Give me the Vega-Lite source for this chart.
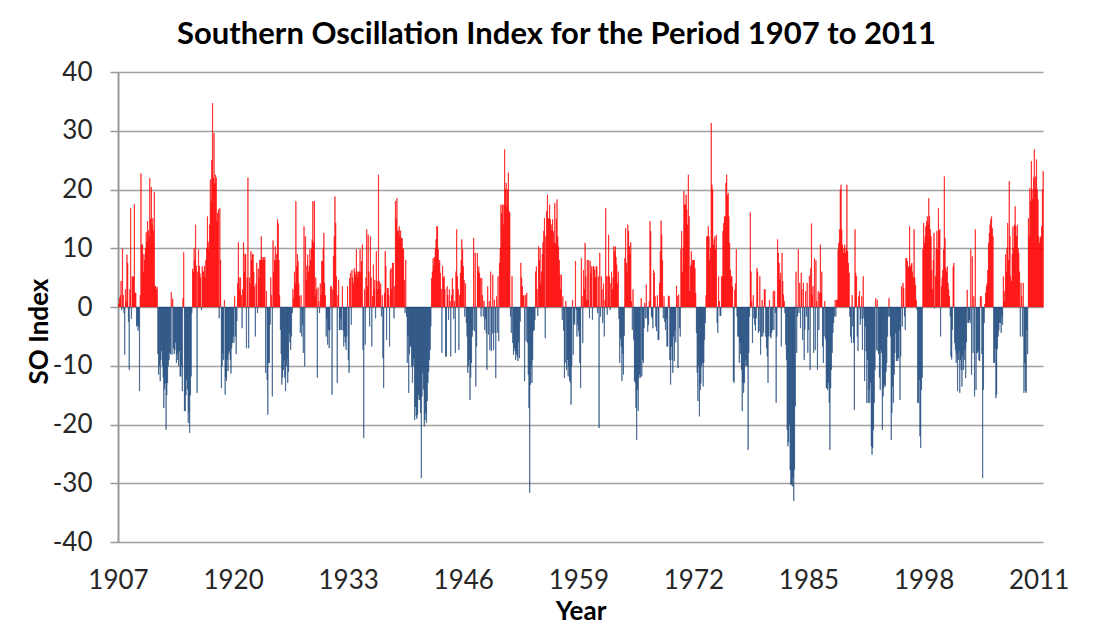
{
"$schema": "https://vega.github.io/schema/vega-lite/v6.json",
"width": 925,
"height": 470,
"autosize": {"type": "none"},
"padding": {"left": 118, "top": 72, "right": 56, "bottom": 86},
"background": "white",
"title": {"text": "Southern Oscillation Index for the Period 1907 to 2011", "font": "Lato", "fontSize": 31, "fontWeight": "bold", "color": "#000000", "anchor": "middle", "frame": "group", "dx": -24, "dy": 40, "baseline": "alphabetic", "offset": 24},
"config": {"view": {"stroke": null}, "font": "Lato"},
"datasets": {"soi": [
{"d":"1907-01","v":0.5},{"d":"1907-02","v":1.5},{"d":"1907-03","v":2.0},{"d":"1907-04","v":4.4},{"d":"1907-05","v":-0.5},{"d":"1907-06","v":9.9},{"d":"1907-07","v":2.0},{"d":"1907-08","v":-1.0},{"d":"1907-09","v":-8.1},{"d":"1907-10","v":3.0},{"d":"1907-11","v":1.0},{"d":"1907-12","v":8.9},
{"d":"1908-01","v":7.5},{"d":"1908-02","v":-2.5},{"d":"1908-03","v":-10.7},{"d":"1908-04","v":3.0},{"d":"1908-05","v":16.8},{"d":"1908-06","v":-2.0},{"d":"1908-07","v":5.2},{"d":"1908-08","v":5.0},{"d":"1908-09","v":5.2},{"d":"1908-10","v":17.5},{"d":"1908-11","v":2.4},{"d":"1908-12","v":2.4},
{"d":"1909-01","v":-3.3},{"d":"1909-02","v":-3.0},{"d":"1909-03","v":-4.0},{"d":"1909-04","v":-3.3},{"d":"1909-05","v":-14.3},{"d":"1909-06","v":2.0},{"d":"1909-07","v":22.7},{"d":"1909-08","v":10.6},{"d":"1909-09","v":10.6},{"d":"1909-10","v":6.0},{"d":"1909-11","v":9.0},{"d":"1909-12","v":8.0},
{"d":"1910-01","v":10.0},{"d":"1910-02","v":12.7},{"d":"1910-03","v":11.0},{"d":"1910-04","v":14.6},{"d":"1910-05","v":13.0},{"d":"1910-06","v":12.0},{"d":"1910-07","v":21.9},{"d":"1910-08","v":15.0},{"d":"1910-09","v":20.4},{"d":"1910-10","v":14.0},{"d":"1910-11","v":15.1},{"d":"1910-12","v":13.0},
{"d":"1911-01","v":19.6},{"d":"1911-02","v":3.4},{"d":"1911-03","v":3.6},{"d":"1911-04","v":3.0},{"d":"1911-05","v":3.4},{"d":"1911-06","v":-8.0},{"d":"1911-07","v":-11.5},{"d":"1911-08","v":-10.0},{"d":"1911-09","v":-12.6},{"d":"1911-10","v":-9.0},{"d":"1911-11","v":-7.5},{"d":"1911-12","v":-10.0},
{"d":"1912-01","v":-12.0},{"d":"1912-02","v":-17.2},{"d":"1912-03","v":-14.0},{"d":"1912-04","v":-13.0},{"d":"1912-05","v":-20.9},{"d":"1912-06","v":-15.0},{"d":"1912-07","v":-12.9},{"d":"1912-08","v":-10.0},{"d":"1912-09","v":-9.0},{"d":"1912-10","v":-7.8},{"d":"1912-11","v":-8.0},{"d":"1912-12","v":2.5},
{"d":"1913-01","v":-8.1},{"d":"1913-02","v":1.4},{"d":"1913-03","v":-7.0},{"d":"1913-04","v":-8.0},{"d":"1913-05","v":-7.3},{"d":"1913-06","v":-6.0},{"d":"1913-07","v":-9.5},{"d":"1913-08","v":-8.0},{"d":"1913-09","v":-9.0},{"d":"1913-10","v":-10.0},{"d":"1913-11","v":-7.5},{"d":"1913-12","v":-11.8},
{"d":"1914-01","v":-11.8},{"d":"1914-02","v":-10.0},{"d":"1914-03","v":-14.3},{"d":"1914-04","v":1.5},{"d":"1914-05","v":9.3},{"d":"1914-06","v":-17.7},{"d":"1914-07","v":-17.7},{"d":"1914-08","v":-15.0},{"d":"1914-09","v":-12.4},{"d":"1914-10","v":-14.0},{"d":"1914-11","v":-19.7},{"d":"1914-12","v":-18.0},
{"d":"1915-01","v":-21.4},{"d":"1915-02","v":-15.0},{"d":"1915-03","v":-11.8},{"d":"1915-04","v":-1.0},{"d":"1915-05","v":6.5},{"d":"1915-06","v":6.0},{"d":"1915-07","v":10.0},{"d":"1915-08","v":8.0},{"d":"1915-09","v":14.0},{"d":"1915-10","v":7.0},{"d":"1915-11","v":-14.6},{"d":"1915-12","v":6.0},
{"d":"1916-01","v":9.8},{"d":"1916-02","v":7.0},{"d":"1916-03","v":5.7},{"d":"1916-04","v":5.0},{"d":"1916-05","v":-0.5},{"d":"1916-06","v":6.9},{"d":"1916-07","v":6.0},{"d":"1916-08","v":6.0},{"d":"1916-09","v":7.0},{"d":"1916-10","v":5.0},{"d":"1916-11","v":8.0},{"d":"1916-12","v":10.0},
{"d":"1917-01","v":15.4},{"d":"1917-02","v":11.0},{"d":"1917-03","v":9.7},{"d":"1917-04","v":14.0},{"d":"1917-05","v":21.7},{"d":"1917-06","v":18.0},{"d":"1917-07","v":25.0},{"d":"1917-08","v":34.7},{"d":"1917-09","v":22.0},{"d":"1917-10","v":29.6},{"d":"1917-11","v":21.0},{"d":"1917-12","v":22.5},
{"d":"1918-01","v":22.0},{"d":"1918-02","v":14.6},{"d":"1918-03","v":16.0},{"d":"1918-04","v":16.6},{"d":"1918-05","v":-1.9},{"d":"1918-06","v":16.8},{"d":"1918-07","v":8.0},{"d":"1918-08","v":-13.8},{"d":"1918-09","v":-10.0},{"d":"1918-10","v":-7.8},{"d":"1918-11","v":-9.0},{"d":"1918-12","v":1.2},
{"d":"1919-01","v":-14.9},{"d":"1919-02","v":-12.0},{"d":"1919-03","v":-12.6},{"d":"1919-04","v":-9.0},{"d":"1919-05","v":-10.9},{"d":"1919-06","v":-8.0},{"d":"1919-07","v":-7.5},{"d":"1919-08","v":-9.0},{"d":"1919-09","v":-11.3},{"d":"1919-10","v":-7.0},{"d":"1919-11","v":-6.1},{"d":"1919-12","v":-5.0},
{"d":"1920-01","v":-6.1},{"d":"1920-02","v":1.8},{"d":"1920-03","v":-5.0},{"d":"1920-04","v":-8.0},{"d":"1920-05","v":-2.4},{"d":"1920-06","v":4.0},{"d":"1920-07","v":11.0},{"d":"1920-08","v":5.0},{"d":"1920-09","v":3.0},{"d":"1920-10","v":5.0},{"d":"1920-11","v":2.0},{"d":"1920-12","v":-3.6},
{"d":"1921-01","v":3.0},{"d":"1921-02","v":11.0},{"d":"1921-03","v":6.0},{"d":"1921-04","v":9.0},{"d":"1921-05","v":9.0},{"d":"1921-06","v":-7.0},{"d":"1921-07","v":5.0},{"d":"1921-08","v":22.0},{"d":"1921-09","v":-7.0},{"d":"1921-10","v":5.0},{"d":"1921-11","v":4.0},{"d":"1921-12","v":9.5},
{"d":"1922-01","v":8.0},{"d":"1922-02","v":9.0},{"d":"1922-03","v":9.0},{"d":"1922-04","v":6.0},{"d":"1922-05","v":3.5},{"d":"1922-06","v":-5.0},{"d":"1922-07","v":4.0},{"d":"1922-08","v":7.5},{"d":"1922-09","v":-1.0},{"d":"1922-10","v":6.5},{"d":"1922-11","v":5.0},{"d":"1922-12","v":8.0},
{"d":"1923-01","v":8.0},{"d":"1923-02","v":12.0},{"d":"1923-03","v":8.5},{"d":"1923-04","v":8.0},{"d":"1923-05","v":8.5},{"d":"1923-06","v":8.0},{"d":"1923-07","v":8.5},{"d":"1923-08","v":-11.2},{"d":"1923-09","v":2.7},{"d":"1923-10","v":-12.4},{"d":"1923-11","v":-18.3},{"d":"1923-12","v":-9.5},
{"d":"1924-01","v":-9.5},{"d":"1924-02","v":-3.0},{"d":"1924-03","v":5.0},{"d":"1924-04","v":2.0},{"d":"1924-05","v":-15.2},{"d":"1924-06","v":11.3},{"d":"1924-07","v":6.0},{"d":"1924-08","v":8.0},{"d":"1924-09","v":10.3},{"d":"1924-10","v":7.8},{"d":"1924-11","v":9.0},{"d":"1924-12","v":14.9},
{"d":"1925-01","v":14.2},{"d":"1925-02","v":8.0},{"d":"1925-03","v":2.0},{"d":"1925-04","v":-3.9},{"d":"1925-05","v":-8.0},{"d":"1925-06","v":-13.2},{"d":"1925-07","v":-12.0},{"d":"1925-08","v":-10.7},{"d":"1925-09","v":-9.0},{"d":"1925-10","v":-12.0},{"d":"1925-11","v":-14.3},{"d":"1925-12","v":-10.0},
{"d":"1926-01","v":-8.9},{"d":"1926-02","v":-12.9},{"d":"1926-03","v":-11.0},{"d":"1926-04","v":-4.5},{"d":"1926-05","v":-6.0},{"d":"1926-06","v":-7.3},{"d":"1926-07","v":-5.0},{"d":"1926-08","v":-1.0},{"d":"1926-09","v":3.0},{"d":"1926-10","v":1.5},{"d":"1926-11","v":6.0},{"d":"1926-12","v":4.0},
{"d":"1927-01","v":18.0},{"d":"1927-02","v":6.9},{"d":"1927-03","v":9.0},{"d":"1927-04","v":7.8},{"d":"1927-05","v":4.0},{"d":"1927-06","v":1.8},{"d":"1927-07","v":-4.4},{"d":"1927-08","v":2.0},{"d":"1927-09","v":-5.0},{"d":"1927-10","v":-3.0},{"d":"1927-11","v":-7.8},{"d":"1927-12","v":13.7},
{"d":"1928-01","v":-10.1},{"d":"1928-02","v":12.0},{"d":"1928-03","v":4.6},{"d":"1928-04","v":7.0},{"d":"1928-05","v":8.9},{"d":"1928-06","v":6.0},{"d":"1928-07","v":7.0},{"d":"1928-08","v":9.8},{"d":"1928-09","v":8.0},{"d":"1928-10","v":10.0},{"d":"1928-11","v":11.5},{"d":"1928-12","v":18.0},
{"d":"1929-01","v":11.0},{"d":"1929-02","v":18.0},{"d":"1929-03","v":1.8},{"d":"1929-04","v":5.0},{"d":"1929-05","v":3.0},{"d":"1929-06","v":-12.0},{"d":"1929-07","v":3.3},{"d":"1929-08","v":1.0},{"d":"1929-09","v":-1.0},{"d":"1929-10","v":4.0},{"d":"1929-11","v":2.0},{"d":"1929-12","v":7.8},
{"d":"1930-01","v":7.8},{"d":"1930-02","v":10.0},{"d":"1930-03","v":12.6},{"d":"1930-04","v":4.1},{"d":"1930-05","v":2.0},{"d":"1930-06","v":-5.0},{"d":"1930-07","v":-2.0},{"d":"1930-08","v":-6.4},{"d":"1930-09","v":-3.9},{"d":"1930-10","v":-7.0},{"d":"1930-11","v":-4.0},{"d":"1930-12","v":3.5},
{"d":"1931-01","v":3.5},{"d":"1931-02","v":-14.9},{"d":"1931-03","v":3.0},{"d":"1931-04","v":8.6},{"d":"1931-05","v":12.0},{"d":"1931-06","v":18.8},{"d":"1931-07","v":14.3},{"d":"1931-08","v":5.2},{"d":"1931-09","v":-12.9},{"d":"1931-10","v":2.0},{"d":"1931-11","v":4.6},{"d":"1931-12","v":-3.9},
{"d":"1932-01","v":-3.9},{"d":"1932-02","v":-2.0},{"d":"1932-03","v":-3.9},{"d":"1932-04","v":3.5},{"d":"1932-05","v":-4.0},{"d":"1932-06","v":-6.7},{"d":"1932-07","v":-5.0},{"d":"1932-08","v":-6.0},{"d":"1932-09","v":-7.3},{"d":"1932-10","v":-5.0},{"d":"1932-11","v":3.5},{"d":"1932-12","v":-9.0},
{"d":"1933-01","v":-11.2},{"d":"1933-02","v":4.9},{"d":"1933-03","v":5.8},{"d":"1933-04","v":-3.0},{"d":"1933-05","v":6.3},{"d":"1933-06","v":5.0},{"d":"1933-07","v":4.0},{"d":"1933-08","v":6.6},{"d":"1933-09","v":6.0},{"d":"1933-10","v":5.5},{"d":"1933-11","v":9.8},{"d":"1933-12","v":6.0},
{"d":"1934-01","v":5.0},{"d":"1934-02","v":6.0},{"d":"1934-03","v":6.0},{"d":"1934-04","v":9.8},{"d":"1934-05","v":6.0},{"d":"1934-06","v":7.8},{"d":"1934-07","v":10.6},{"d":"1934-08","v":-7.3},{"d":"1934-09","v":-22.3},{"d":"1934-10","v":3.0},{"d":"1934-11","v":-6.4},{"d":"1934-12","v":5.0},
{"d":"1935-01","v":13.2},{"d":"1935-02","v":3.5},{"d":"1935-03","v":12.3},{"d":"1935-04","v":6.0},{"d":"1935-05","v":-3.3},{"d":"1935-06","v":12.0},{"d":"1935-07","v":5.0},{"d":"1935-08","v":-6.7},{"d":"1935-09","v":1.8},{"d":"1935-10","v":7.2},{"d":"1935-11","v":3.0},{"d":"1935-12","v":4.6},
{"d":"1936-01","v":-1.9},{"d":"1936-02","v":9.5},{"d":"1936-03","v":4.4},{"d":"1936-04","v":3.0},{"d":"1936-05","v":22.5},{"d":"1936-06","v":4.4},{"d":"1936-07","v":3.0},{"d":"1936-08","v":4.0},{"d":"1936-09","v":-1.6},{"d":"1936-10","v":2.0},{"d":"1936-11","v":-8.7},{"d":"1936-12","v":-13.8},
{"d":"1937-01","v":2.4},{"d":"1937-02","v":9.5},{"d":"1937-03","v":7.0},{"d":"1937-04","v":-5.6},{"d":"1937-05","v":3.2},{"d":"1937-06","v":3.2},{"d":"1937-07","v":2.0},{"d":"1937-08","v":-6.7},{"d":"1937-09","v":6.3},{"d":"1937-10","v":6.6},{"d":"1937-11","v":3.0},{"d":"1937-12","v":7.5},
{"d":"1938-01","v":7.5},{"d":"1938-02","v":-1.9},{"d":"1938-03","v":3.5},{"d":"1938-04","v":18.0},{"d":"1938-05","v":15.0},{"d":"1938-06","v":18.5},{"d":"1938-07","v":12.9},{"d":"1938-08","v":13.0},{"d":"1938-09","v":13.7},{"d":"1938-10","v":12.0},{"d":"1938-11","v":13.0},{"d":"1938-12","v":11.7},
{"d":"1939-01","v":11.7},{"d":"1939-02","v":10.0},{"d":"1939-03","v":9.8},{"d":"1939-04","v":4.6},{"d":"1939-05","v":-1.0},{"d":"1939-06","v":8.0},{"d":"1939-07","v":-1.6},{"d":"1939-08","v":-9.5},{"d":"1939-09","v":-5.0},{"d":"1939-10","v":-14.6},{"d":"1939-11","v":-8.0},{"d":"1939-12","v":-6.7},
{"d":"1940-01","v":-6.7},{"d":"1940-02","v":-10.1},{"d":"1940-03","v":-12.9},{"d":"1940-04","v":-10.0},{"d":"1940-05","v":-8.7},{"d":"1940-06","v":-19.2},{"d":"1940-07","v":-17.0},{"d":"1940-08","v":-18.6},{"d":"1940-09","v":-19.0},{"d":"1940-10","v":-18.3},{"d":"1940-11","v":-15.0},{"d":"1940-12","v":-15.8},
{"d":"1941-01","v":-15.8},{"d":"1941-02","v":-18.0},{"d":"1941-03","v":-29.1},{"d":"1941-04","v":-15.2},{"d":"1941-05","v":-11.2},{"d":"1941-06","v":-14.0},{"d":"1941-07","v":-20.3},{"d":"1941-08","v":-19.2},{"d":"1941-09","v":-18.0},{"d":"1941-10","v":-19.7},{"d":"1941-11","v":-16.0},{"d":"1941-12","v":-12.9},
{"d":"1942-01","v":-11.0},{"d":"1942-02","v":-9.0},{"d":"1942-03","v":-7.3},{"d":"1942-04","v":-3.3},{"d":"1942-05","v":4.9},{"d":"1942-06","v":6.0},{"d":"1942-07","v":8.3},{"d":"1942-08","v":7.0},{"d":"1942-09","v":8.5},{"d":"1942-10","v":10.0},{"d":"1942-11","v":11.5},{"d":"1942-12","v":13.7},
{"d":"1943-01","v":13.7},{"d":"1943-02","v":9.8},{"d":"1943-03","v":7.5},{"d":"1943-04","v":8.0},{"d":"1943-05","v":5.8},{"d":"1943-06","v":3.0},{"d":"1943-07","v":-7.8},{"d":"1943-08","v":7.0},{"d":"1943-09","v":5.0},{"d":"1943-10","v":5.2},{"d":"1943-11","v":3.0},{"d":"1943-12","v":-8.4},
{"d":"1944-01","v":-8.4},{"d":"1944-02","v":3.5},{"d":"1944-03","v":2.0},{"d":"1944-04","v":-2.2},{"d":"1944-05","v":3.0},{"d":"1944-06","v":1.0},{"d":"1944-07","v":-8.4},{"d":"1944-08","v":2.0},{"d":"1944-09","v":4.9},{"d":"1944-10","v":3.0},{"d":"1944-11","v":-2.0},{"d":"1944-12","v":1.0},
{"d":"1945-01","v":-7.8},{"d":"1945-02","v":6.0},{"d":"1945-03","v":13.2},{"d":"1945-04","v":5.2},{"d":"1945-05","v":3.0},{"d":"1945-06","v":-7.3},{"d":"1945-07","v":2.0},{"d":"1945-08","v":5.8},{"d":"1945-09","v":8.0},{"d":"1945-10","v":11.5},{"d":"1945-11","v":9.8},{"d":"1945-12","v":6.9},
{"d":"1946-01","v":4.6},{"d":"1946-02","v":-1.6},{"d":"1946-03","v":4.0},{"d":"1946-04","v":-2.7},{"d":"1946-05","v":-5.0},{"d":"1946-06","v":-11.2},{"d":"1946-07","v":-10.0},{"d":"1946-08","v":-9.0},{"d":"1946-09","v":-15.8},{"d":"1946-10","v":-12.0},{"d":"1946-11","v":-9.5},{"d":"1946-12","v":-5.0},
{"d":"1947-01","v":-3.9},{"d":"1947-02","v":11.7},{"d":"1947-03","v":-4.1},{"d":"1947-04","v":9.2},{"d":"1947-05","v":-13.5},{"d":"1947-06","v":-6.7},{"d":"1947-07","v":9.2},{"d":"1947-08","v":6.0},{"d":"1947-09","v":6.9},{"d":"1947-10","v":5.8},{"d":"1947-11","v":4.9},{"d":"1947-12","v":-1.6},
{"d":"1948-01","v":4.9},{"d":"1948-02","v":2.0},{"d":"1948-03","v":-1.6},{"d":"1948-04","v":1.0},{"d":"1948-05","v":-3.9},{"d":"1948-06","v":-2.0},{"d":"1948-07","v":-4.4},{"d":"1948-08","v":-10.7},{"d":"1948-09","v":3.5},{"d":"1948-10","v":-4.7},{"d":"1948-11","v":1.0},{"d":"1948-12","v":-7.3},
{"d":"1949-01","v":6.0},{"d":"1949-02","v":-7.5},{"d":"1949-03","v":-4.5},{"d":"1949-04","v":5.5},{"d":"1949-05","v":-7.3},{"d":"1949-06","v":1.2},{"d":"1949-07","v":-4.4},{"d":"1949-08","v":-12.1},{"d":"1949-09","v":1.8},{"d":"1949-10","v":-4.4},{"d":"1949-11","v":5.2},{"d":"1949-12","v":-5.8},
{"d":"1950-01","v":7.5},{"d":"1950-02","v":10.0},{"d":"1950-03","v":17.4},{"d":"1950-04","v":16.0},{"d":"1950-05","v":17.4},{"d":"1950-06","v":14.0},{"d":"1950-07","v":17.4},{"d":"1950-08","v":26.8},{"d":"1950-09","v":20.0},{"d":"1950-10","v":21.1},{"d":"1950-11","v":17.1},{"d":"1950-12","v":20.0},
{"d":"1951-01","v":22.9},{"d":"1951-02","v":16.3},{"d":"1951-03","v":16.0},{"d":"1951-04","v":-1.6},{"d":"1951-05","v":-4.4},{"d":"1951-06","v":5.2},{"d":"1951-07","v":-6.1},{"d":"1951-08","v":-8.1},{"d":"1951-09","v":-7.0},{"d":"1951-10","v":-7.5},{"d":"1951-11","v":-9.0},{"d":"1951-12","v":-8.0},
{"d":"1952-01","v":-8.4},{"d":"1952-02","v":-9.2},{"d":"1952-03","v":-6.0},{"d":"1952-04","v":-8.7},{"d":"1952-05","v":-2.5},{"d":"1952-06","v":7.5},{"d":"1952-07","v":5.0},{"d":"1952-08","v":3.5},{"d":"1952-09","v":1.8},{"d":"1952-10","v":2.0},{"d":"1952-11","v":-12.6},{"d":"1952-12","v":2.0},
{"d":"1953-01","v":-5.8},{"d":"1953-02","v":2.4},{"d":"1953-03","v":-6.1},{"d":"1953-04","v":-11.5},{"d":"1953-05","v":-17.2},{"d":"1953-06","v":-31.6},{"d":"1953-07","v":-13.2},{"d":"1953-08","v":-10.0},{"d":"1953-09","v":-12.9},{"d":"1953-10","v":-9.0},{"d":"1953-11","v":-4.1},{"d":"1953-12","v":-3.9},
{"d":"1954-01","v":-2.2},{"d":"1954-02","v":6.0},{"d":"1954-03","v":6.9},{"d":"1954-04","v":3.0},{"d":"1954-05","v":-1.5},{"d":"1954-06","v":10.3},{"d":"1954-07","v":8.0},{"d":"1954-08","v":10.0},{"d":"1954-09","v":4.0},{"d":"1954-10","v":6.0},{"d":"1954-11","v":9.0},{"d":"1954-12","v":11.0},
{"d":"1955-01","v":12.9},{"d":"1955-02","v":15.1},{"d":"1955-03","v":-5.3},{"d":"1955-04","v":12.0},{"d":"1955-05","v":16.3},{"d":"1955-06","v":19.1},{"d":"1955-07","v":15.0},{"d":"1955-08","v":15.1},{"d":"1955-09","v":17.4},{"d":"1955-10","v":14.9},{"d":"1955-11","v":14.0},{"d":"1955-12","v":13.0},
{"d":"1956-01","v":14.9},{"d":"1956-02","v":12.9},{"d":"1956-03","v":10.9},{"d":"1956-04","v":17.7},{"d":"1956-05","v":10.9},{"d":"1956-06","v":15.0},{"d":"1956-07","v":18.3},{"d":"1956-08","v":12.0},{"d":"1956-09","v":10.3},{"d":"1956-10","v":8.0},{"d":"1956-11","v":5.5},{"d":"1956-12","v":3.0},
{"d":"1957-01","v":5.5},{"d":"1957-02","v":-2.2},{"d":"1957-03","v":1.8},{"d":"1957-04","v":-4.0},{"d":"1957-05","v":-12.1},{"d":"1957-06","v":-9.5},{"d":"1957-07","v":1.0},{"d":"1957-08","v":-10.7},{"d":"1957-09","v":-9.0},{"d":"1957-10","v":-11.8},{"d":"1957-11","v":-10.0},{"d":"1957-12","v":-12.5},
{"d":"1958-01","v":-12.9},{"d":"1958-02","v":-16.6},{"d":"1958-03","v":-10.0},{"d":"1958-04","v":1.2},{"d":"1958-05","v":-8.1},{"d":"1958-06","v":-2.7},{"d":"1958-07","v":-3.0},{"d":"1958-08","v":7.8},{"d":"1958-09","v":-0.5},{"d":"1958-10","v":-5.0},{"d":"1958-11","v":-3.0},{"d":"1958-12","v":-4.0},
{"d":"1959-01","v":-5.0},{"d":"1959-02","v":-9.5},{"d":"1959-03","v":-13.8},{"d":"1959-04","v":8.3},{"d":"1959-05","v":1.8},{"d":"1959-06","v":-6.1},{"d":"1959-07","v":6.3},{"d":"1959-08","v":3.0},{"d":"1959-09","v":10.9},{"d":"1959-10","v":5.2},{"d":"1959-11","v":1.2},{"d":"1959-12","v":8.0},
{"d":"1960-01","v":1.2},{"d":"1960-02","v":8.0},{"d":"1960-03","v":-1.9},{"d":"1960-04","v":7.8},{"d":"1960-05","v":5.8},{"d":"1960-06","v":6.9},{"d":"1960-07","v":-2.2},{"d":"1960-08","v":6.9},{"d":"1960-09","v":6.9},{"d":"1960-10","v":6.3},{"d":"1960-11","v":5.0},{"d":"1960-12","v":6.9},
{"d":"1961-01","v":6.9},{"d":"1961-02","v":-1.0},{"d":"1961-03","v":5.2},{"d":"1961-04","v":-20.6},{"d":"1961-05","v":9.2},{"d":"1961-06","v":-1.6},{"d":"1961-07","v":5.2},{"d":"1961-08","v":3.0},{"d":"1961-09","v":-2.7},{"d":"1961-10","v":4.0},{"d":"1961-11","v":-5.0},{"d":"1961-12","v":1.2},
{"d":"1962-01","v":16.8},{"d":"1962-02","v":5.2},{"d":"1962-03","v":-1.3},{"d":"1962-04","v":5.2},{"d":"1962-05","v":12.3},{"d":"1962-06","v":5.2},{"d":"1962-07","v":-0.5},{"d":"1962-08","v":4.0},{"d":"1962-09","v":6.0},{"d":"1962-10","v":3.0},{"d":"1962-11","v":5.0},{"d":"1962-12","v":10.3},
{"d":"1963-01","v":9.5},{"d":"1963-02","v":10.3},{"d":"1963-03","v":8.5},{"d":"1963-04","v":7.2},{"d":"1963-05","v":4.0},{"d":"1963-06","v":6.0},{"d":"1963-07","v":-2.0},{"d":"1963-08","v":-9.5},{"d":"1963-09","v":-5.3},{"d":"1963-10","v":-6.7},{"d":"1963-11","v":-12.6},{"d":"1963-12","v":-8.0},
{"d":"1964-01","v":-11.5},{"d":"1964-02","v":-4.9},{"d":"1964-03","v":8.3},{"d":"1964-04","v":13.4},{"d":"1964-05","v":7.5},{"d":"1964-06","v":6.0},{"d":"1964-07","v":14.0},{"d":"1964-08","v":12.9},{"d":"1964-09","v":10.3},{"d":"1964-10","v":9.0},{"d":"1964-11","v":11.0},{"d":"1964-12","v":1.0},
{"d":"1965-01","v":-3.9},{"d":"1965-02","v":3.0},{"d":"1965-03","v":-5.6},{"d":"1965-04","v":-12.6},{"d":"1965-05","v":-12.9},{"d":"1965-06","v":-17.2},{"d":"1965-07","v":-22.6},{"d":"1965-08","v":-14.1},{"d":"1965-09","v":-17.7},{"d":"1965-10","v":-12.1},{"d":"1965-11","v":-11.5},{"d":"1965-12","v":-12.0},
{"d":"1966-01","v":1.5},{"d":"1966-02","v":-11.8},{"d":"1966-03","v":-9.0},{"d":"1966-04","v":-9.5},{"d":"1966-05","v":-3.6},{"d":"1966-06","v":0.7},{"d":"1966-07","v":-1.9},{"d":"1966-08","v":3.8},{"d":"1966-09","v":-1.9},{"d":"1966-10","v":-4.2},{"d":"1966-11","v":-3.0},{"d":"1966-12","v":1.0},
{"d":"1967-01","v":14.6},{"d":"1967-02","v":12.9},{"d":"1967-03","v":-1.6},{"d":"1967-04","v":-1.9},{"d":"1967-05","v":-3.6},{"d":"1967-06","v":6.3},{"d":"1967-07","v":5.8},{"d":"1967-08","v":1.8},{"d":"1967-09","v":-3.3},{"d":"1967-10","v":-4.1},{"d":"1967-11","v":2.0},{"d":"1967-12","v":-5.6},
{"d":"1968-01","v":-5.6},{"d":"1968-02","v":4.1},{"d":"1968-03","v":9.5},{"d":"1968-04","v":14.7},{"d":"1968-05","v":12.3},{"d":"1968-06","v":8.0},{"d":"1968-07","v":-1.9},{"d":"1968-08","v":1.8},{"d":"1968-09","v":-2.5},{"d":"1968-10","v":-3.9},{"d":"1968-11","v":-2.0},{"d":"1968-12","v":-6.7},
{"d":"1969-01","v":-6.7},{"d":"1969-02","v":1.9},{"d":"1969-03","v":1.8},{"d":"1969-04","v":-9.0},{"d":"1969-05","v":-13.2},{"d":"1969-06","v":-6.7},{"d":"1969-07","v":-9.0},{"d":"1969-08","v":-11.2},{"d":"1969-09","v":-5.0},{"d":"1969-10","v":-9.2},{"d":"1969-11","v":-4.0},{"d":"1969-12","v":-6.0},
{"d":"1970-01","v":3.6},{"d":"1970-02","v":1.8},{"d":"1970-03","v":-10.4},{"d":"1970-04","v":2.1},{"d":"1970-05","v":-3.6},{"d":"1970-06","v":-5.0},{"d":"1970-07","v":9.8},{"d":"1970-08","v":12.9},{"d":"1970-09","v":6.0},{"d":"1970-10","v":10.0},{"d":"1970-11","v":19.7},{"d":"1970-12","v":17.4},
{"d":"1971-01","v":17.4},{"d":"1971-02","v":19.1},{"d":"1971-03","v":16.6},{"d":"1971-04","v":14.0},{"d":"1971-05","v":22.5},{"d":"1971-06","v":15.4},{"d":"1971-07","v":2.7},{"d":"1971-08","v":7.0},{"d":"1971-09","v":9.5},{"d":"1971-10","v":7.2},{"d":"1971-11","v":8.0},{"d":"1971-12","v":8.0},
{"d":"1972-01","v":8.0},{"d":"1972-02","v":6.6},{"d":"1972-03","v":2.4},{"d":"1972-04","v":-4.4},{"d":"1972-05","v":-11.2},{"d":"1972-06","v":-16.0},{"d":"1972-07","v":-10.0},{"d":"1972-08","v":-18.6},{"d":"1972-09","v":-14.1},{"d":"1972-10","v":-13.0},{"d":"1972-11","v":-10.0},{"d":"1972-12","v":-9.5},
{"d":"1973-01","v":-13.5},{"d":"1973-02","v":-9.5},{"d":"1973-03","v":-5.6},{"d":"1973-04","v":-2.7},{"d":"1973-05","v":2.0},{"d":"1973-06","v":12.0},{"d":"1973-07","v":12.0},{"d":"1973-08","v":13.7},{"d":"1973-09","v":12.0},{"d":"1973-10","v":8.0},{"d":"1973-11","v":10.0},{"d":"1973-12","v":31.3},
{"d":"1974-01","v":20.8},{"d":"1974-02","v":20.0},{"d":"1974-03","v":10.6},{"d":"1974-04","v":11.5},{"d":"1974-05","v":12.0},{"d":"1974-06","v":9.8},{"d":"1974-07","v":12.3},{"d":"1974-08","v":-2.7},{"d":"1974-09","v":-4.4},{"d":"1974-10","v":5.2},{"d":"1974-11","v":1.0},{"d":"1974-12","v":-1.5},
{"d":"1975-01","v":-1.5},{"d":"1975-02","v":5.2},{"d":"1975-03","v":5.2},{"d":"1975-04","v":12.9},{"d":"1975-05","v":14.3},{"d":"1975-06","v":15.4},{"d":"1975-07","v":15.4},{"d":"1975-08","v":21.1},{"d":"1975-09","v":22.5},{"d":"1975-10","v":19.0},{"d":"1975-11","v":19.4},{"d":"1975-12","v":15.4},
{"d":"1976-01","v":10.9},{"d":"1976-02","v":6.3},{"d":"1976-03","v":5.2},{"d":"1976-04","v":5.2},{"d":"1976-05","v":3.5},{"d":"1976-06","v":-12.6},{"d":"1976-07","v":-12.9},{"d":"1976-08","v":2.9},{"d":"1976-09","v":4.0},{"d":"1976-10","v":9.8},{"d":"1976-11","v":-1.6},{"d":"1976-12","v":-5.0},
{"d":"1977-01","v":-5.0},{"d":"1977-02","v":-9.5},{"d":"1977-03","v":-6.1},{"d":"1977-04","v":-8.0},{"d":"1977-05","v":-10.7},{"d":"1977-06","v":-17.7},{"d":"1977-07","v":-12.9},{"d":"1977-08","v":-14.6},{"d":"1977-09","v":-12.9},{"d":"1977-10","v":-10.0},{"d":"1977-11","v":-9.0},{"d":"1977-12","v":-10.0},
{"d":"1978-01","v":-10.1},{"d":"1978-02","v":-24.3},{"d":"1978-03","v":-7.8},{"d":"1978-04","v":-1.6},{"d":"1978-05","v":16.1},{"d":"1978-06","v":6.0},{"d":"1978-07","v":1.0},{"d":"1978-08","v":-6.1},{"d":"1978-09","v":2.0},{"d":"1978-10","v":-1.9},{"d":"1978-11","v":-3.0},{"d":"1978-12","v":-4.0},
{"d":"1979-01","v":-1.9},{"d":"1979-02","v":6.6},{"d":"1979-03","v":6.0},{"d":"1979-04","v":-4.4},{"d":"1979-05","v":-4.1},{"d":"1979-06","v":5.2},{"d":"1979-07","v":-8.1},{"d":"1979-08","v":-5.0},{"d":"1979-09","v":1.2},{"d":"1979-10","v":-5.0},{"d":"1979-11","v":-4.4},{"d":"1979-12","v":3.0},
{"d":"1980-01","v":3.0},{"d":"1980-02","v":-5.0},{"d":"1980-03","v":-7.0},{"d":"1980-04","v":-8.4},{"d":"1980-05","v":-12.9},{"d":"1980-06","v":-5.0},{"d":"1980-07","v":1.2},{"d":"1980-08","v":-5.0},{"d":"1980-09","v":-5.3},{"d":"1980-10","v":-4.4},{"d":"1980-11","v":-3.9},{"d":"1980-12","v":2.7},
{"d":"1981-01","v":-3.9},{"d":"1981-02","v":2.7},{"d":"1981-03","v":-1.0},{"d":"1981-04","v":-16.3},{"d":"1981-05","v":-5.0},{"d":"1981-06","v":11.5},{"d":"1981-07","v":9.2},{"d":"1981-08","v":7.5},{"d":"1981-09","v":4.6},{"d":"1981-10","v":5.8},{"d":"1981-11","v":-6.7},{"d":"1981-12","v":9.2},
{"d":"1982-01","v":4.4},{"d":"1982-02","v":2.1},{"d":"1982-03","v":1.0},{"d":"1982-04","v":-1.0},{"d":"1982-05","v":-6.4},{"d":"1982-06","v":-9.0},{"d":"1982-07","v":-20.9},{"d":"1982-08","v":-23.7},{"d":"1982-09","v":-23.0},{"d":"1982-10","v":-20.0},{"d":"1982-11","v":-27.7},{"d":"1982-12","v":-30.2},
{"d":"1983-01","v":-30.2},{"d":"1983-02","v":-30.5},{"d":"1983-03","v":-29.0},{"d":"1983-04","v":-33.0},{"d":"1983-05","v":-27.7},{"d":"1983-06","v":-16.9},{"d":"1983-07","v":6.0},{"d":"1983-08","v":-7.8},{"d":"1983-09","v":-1.6},{"d":"1983-10","v":9.8},{"d":"1983-11","v":-1.0},{"d":"1983-12","v":4.1},
{"d":"1984-01","v":-3.6},{"d":"1984-02","v":5.8},{"d":"1984-03","v":3.0},{"d":"1984-04","v":-5.6},{"d":"1984-05","v":4.1},{"d":"1984-06","v":-9.0},{"d":"1984-07","v":-3.9},{"d":"1984-08","v":2.7},{"d":"1984-09","v":-1.6},{"d":"1984-10","v":4.1},{"d":"1984-11","v":-7.8},{"d":"1984-12","v":-3.9},
{"d":"1985-01","v":5.3},{"d":"1985-02","v":-10.7},{"d":"1985-03","v":6.6},{"d":"1985-04","v":14.2},{"d":"1985-05","v":2.0},{"d":"1985-06","v":3.5},{"d":"1985-07","v":-7.8},{"d":"1985-08","v":8.3},{"d":"1985-09","v":-7.3},{"d":"1985-10","v":7.9},{"d":"1985-11","v":1.0},{"d":"1985-12","v":-10.7},
{"d":"1986-01","v":2.7},{"d":"1986-02","v":-3.9},{"d":"1986-03","v":2.4},{"d":"1986-04","v":10.6},{"d":"1986-05","v":2.4},{"d":"1986-06","v":6.0},{"d":"1986-07","v":-6.7},{"d":"1986-08","v":-9.5},{"d":"1986-09","v":-5.0},{"d":"1986-10","v":1.0},{"d":"1986-11","v":-5.5},{"d":"1986-12","v":-13.8},
{"d":"1987-01","v":-13.8},{"d":"1987-02","v":-14.1},{"d":"1987-03","v":-12.9},{"d":"1987-04","v":-16.3},{"d":"1987-05","v":-24.3},{"d":"1987-06","v":-13.8},{"d":"1987-07","v":-10.7},{"d":"1987-08","v":-7.8},{"d":"1987-09","v":-4.4},{"d":"1987-10","v":-2.7},{"d":"1987-11","v":-1.6},{"d":"1987-12","v":1.2},
{"d":"1988-01","v":-1.6},{"d":"1988-02","v":1.2},{"d":"1988-03","v":1.2},{"d":"1988-04","v":9.8},{"d":"1988-05","v":10.9},{"d":"1988-06","v":13.2},{"d":"1988-07","v":20.0},{"d":"1988-08","v":20.8},{"d":"1988-09","v":13.2},{"d":"1988-10","v":10.6},{"d":"1988-11","v":9.2},{"d":"1988-12","v":10.0},
{"d":"1989-01","v":10.6},{"d":"1989-02","v":9.2},{"d":"1989-03","v":10.0},{"d":"1989-04","v":20.8},{"d":"1989-05","v":9.5},{"d":"1989-06","v":7.5},{"d":"1989-07","v":5.8},{"d":"1989-08","v":-1.6},{"d":"1989-09","v":-5.0},{"d":"1989-10","v":-6.1},{"d":"1989-11","v":2.0},{"d":"1989-12","v":-3.3},
{"d":"1990-01","v":-6.1},{"d":"1990-02","v":-17.5},{"d":"1990-03","v":13.2},{"d":"1990-04","v":5.8},{"d":"1990-05","v":5.2},{"d":"1990-06","v":-5.0},{"d":"1990-07","v":-7.5},{"d":"1990-08","v":1.8},{"d":"1990-09","v":2.7},{"d":"1990-10","v":-3.0},{"d":"1990-11","v":-2.0},{"d":"1990-12","v":1.8},
{"d":"1991-01","v":-7.3},{"d":"1991-02","v":5.2},{"d":"1991-03","v":-1.9},{"d":"1991-04","v":-12.6},{"d":"1991-05","v":-3.3},{"d":"1991-06","v":-7.5},{"d":"1991-07","v":-16.3},{"d":"1991-08","v":-9.0},{"d":"1991-09","v":-16.3},{"d":"1991-10","v":-14.0},{"d":"1991-11","v":-16.3},{"d":"1991-12","v":-12.9},
{"d":"1992-01","v":-23.7},{"d":"1992-02","v":-25.1},{"d":"1992-03","v":-24.0},{"d":"1992-04","v":-20.9},{"d":"1992-05","v":-16.3},{"d":"1992-06","v":-10.7},{"d":"1992-07","v":1.5},{"d":"1992-08","v":-7.3},{"d":"1992-09","v":1.2},{"d":"1992-10","v":-7.5},{"d":"1992-11","v":-8.0},{"d":"1992-12","v":-12.0},
{"d":"1993-01","v":-14.1},{"d":"1993-02","v":-7.3},{"d":"1993-03","v":-7.8},{"d":"1993-04","v":-20.9},{"d":"1993-05","v":-15.2},{"d":"1993-06","v":-13.8},{"d":"1993-07","v":-13.2},{"d":"1993-08","v":-13.5},{"d":"1993-09","v":-11.0},{"d":"1993-10","v":-9.5},{"d":"1993-11","v":-5.0},{"d":"1993-12","v":-1.6},
{"d":"1994-01","v":1.5},{"d":"1994-02","v":-1.6},{"d":"1994-03","v":-5.0},{"d":"1994-04","v":-22.6},{"d":"1994-05","v":-18.0},{"d":"1994-06","v":-13.5},{"d":"1994-07","v":-16.3},{"d":"1994-08","v":-11.5},{"d":"1994-09","v":-7.8},{"d":"1994-10","v":-4.4},{"d":"1994-11","v":-9.2},{"d":"1994-12","v":-8.7},
{"d":"1995-01","v":-9.2},{"d":"1995-02","v":-8.7},{"d":"1995-03","v":-3.9},{"d":"1995-04","v":-15.8},{"d":"1995-05","v":-8.4},{"d":"1995-06","v":3.5},{"d":"1995-07","v":-3.3},{"d":"1995-08","v":4.1},{"d":"1995-09","v":3.2},{"d":"1995-10","v":-1.6},{"d":"1995-11","v":-3.9},{"d":"1995-12","v":8.3},
{"d":"1996-01","v":8.3},{"d":"1996-02","v":7.8},{"d":"1996-03","v":6.6},{"d":"1996-04","v":6.9},{"d":"1996-05","v":13.7},{"d":"1996-06","v":6.9},{"d":"1996-07","v":7.2},{"d":"1996-08","v":7.5},{"d":"1996-09","v":6.0},{"d":"1996-10","v":5.0},{"d":"1996-11","v":13.2},{"d":"1996-12","v":5.0},
{"d":"1997-01","v":3.7},{"d":"1997-02","v":1.2},{"d":"1997-03","v":-0.5},{"d":"1997-04","v":-16.3},{"d":"1997-05","v":-16.3},{"d":"1997-06","v":-12.4},{"d":"1997-07","v":-22.0},{"d":"1997-08","v":-24.0},{"d":"1997-09","v":-14.1},{"d":"1997-10","v":-12.0},{"d":"1997-11","v":9.8},{"d":"1997-12","v":14.3},
{"d":"1998-01","v":10.9},{"d":"1998-02","v":12.0},{"d":"1998-03","v":13.7},{"d":"1998-04","v":14.6},{"d":"1998-05","v":15.4},{"d":"1998-06","v":14.0},{"d":"1998-07","v":18.5},{"d":"1998-08","v":15.4},{"d":"1998-09","v":13.2},{"d":"1998-10","v":12.0},{"d":"1998-11","v":6.3},{"d":"1998-12","v":3.0},
{"d":"1999-01","v":8.0},{"d":"1999-02","v":12.6},{"d":"1999-03","v":-0.2},{"d":"1999-04","v":5.2},{"d":"1999-05","v":10.0},{"d":"1999-06","v":12.9},{"d":"1999-07","v":9.8},{"d":"1999-08","v":16.8},{"d":"1999-09","v":13.0},{"d":"1999-10","v":13.2},{"d":"1999-11","v":-5.0},{"d":"1999-12","v":3.5},
{"d":"2000-01","v":5.0},{"d":"2000-02","v":6.3},{"d":"2000-03","v":9.8},{"d":"2000-04","v":22.2},{"d":"2000-05","v":11.7},{"d":"2000-06","v":6.6},{"d":"2000-07","v":6.0},{"d":"2000-08","v":6.9},{"d":"2000-09","v":4.1},{"d":"2000-10","v":3.0},{"d":"2000-11","v":1.8},{"d":"2000-12","v":-1.6},
{"d":"2001-01","v":-8.4},{"d":"2001-02","v":-8.9},{"d":"2001-03","v":-3.9},{"d":"2001-04","v":6.9},{"d":"2001-05","v":7.5},{"d":"2001-06","v":-6.1},{"d":"2001-07","v":-7.3},{"d":"2001-08","v":-9.5},{"d":"2001-09","v":-8.0},{"d":"2001-10","v":-14.3},{"d":"2001-11","v":-9.0},{"d":"2001-12","v":-7.5},
{"d":"2002-01","v":-14.6},{"d":"2002-02","v":-9.0},{"d":"2002-03","v":-10.7},{"d":"2002-04","v":-13.5},{"d":"2002-05","v":-8.4},{"d":"2002-06","v":-10.7},{"d":"2002-07","v":-9.0},{"d":"2002-08","v":-7.3},{"d":"2002-09","v":-12.1},{"d":"2002-10","v":-6.0},{"d":"2002-11","v":2.9},{"d":"2002-12","v":-2.7},
{"d":"2003-01","v":-2.7},{"d":"2003-02","v":-2.2},{"d":"2003-03","v":-2.7},{"d":"2003-04","v":9.8},{"d":"2003-05","v":-11.5},{"d":"2003-06","v":8.6},{"d":"2003-07","v":-7.8},{"d":"2003-08","v":1.8},{"d":"2003-09","v":-15.2},{"d":"2003-10","v":13.2},{"d":"2003-11","v":-14.1},{"d":"2003-12","v":-7.8},
{"d":"2004-01","v":-7.8},{"d":"2004-02","v":-7.5},{"d":"2004-03","v":-9.0},{"d":"2004-04","v":-9.2},{"d":"2004-05","v":1.8},{"d":"2004-06","v":1.8},{"d":"2004-07","v":-8.0},{"d":"2004-08","v":-29.1},{"d":"2004-09","v":-14.1},{"d":"2004-10","v":-2.7},{"d":"2004-11","v":0.5},{"d":"2004-12","v":2.4},
{"d":"2005-01","v":3.5},{"d":"2005-02","v":4.0},{"d":"2005-03","v":6.3},{"d":"2005-04","v":10.9},{"d":"2005-05","v":12.6},{"d":"2005-06","v":14.0},{"d":"2005-07","v":14.9},{"d":"2005-08","v":15.4},{"d":"2005-09","v":13.4},{"d":"2005-10","v":12.0},{"d":"2005-11","v":-9.5},{"d":"2005-12","v":-9.5},
{"d":"2006-01","v":-7.1},{"d":"2006-02","v":-15.5},{"d":"2006-03","v":-14.9},{"d":"2006-04","v":-7.1},{"d":"2006-05","v":-5.0},{"d":"2006-06","v":-4.0},{"d":"2006-07","v":-2.7},{"d":"2006-08","v":-2.7},{"d":"2006-09","v":-4.4},{"d":"2006-10","v":-1.6},{"d":"2006-11","v":-3.0},{"d":"2006-12","v":5.2},
{"d":"2007-01","v":2.7},{"d":"2007-02","v":1.0},{"d":"2007-03","v":8.9},{"d":"2007-04","v":6.0},{"d":"2007-05","v":10.0},{"d":"2007-06","v":14.3},{"d":"2007-07","v":8.0},{"d":"2007-08","v":21.4},{"d":"2007-09","v":12.0},{"d":"2007-10","v":5.2},{"d":"2007-11","v":4.4},{"d":"2007-12","v":9.0},
{"d":"2008-01","v":13.7},{"d":"2008-02","v":10.0},{"d":"2008-03","v":14.0},{"d":"2008-04","v":17.1},{"d":"2008-05","v":13.7},{"d":"2008-06","v":12.0},{"d":"2008-07","v":14.0},{"d":"2008-08","v":10.0},{"d":"2008-09","v":9.2},{"d":"2008-10","v":6.0},{"d":"2008-11","v":-5.0},{"d":"2008-12","v":4.1},
{"d":"2009-01","v":1.8},{"d":"2009-02","v":-5.0},{"d":"2009-03","v":4.1},{"d":"2009-04","v":-14.6},{"d":"2009-05","v":-9.5},{"d":"2009-06","v":-14.3},{"d":"2009-07","v":-14.6},{"d":"2009-08","v":-3.9},{"d":"2009-09","v":-8.0},{"d":"2009-10","v":15.1},{"d":"2009-11","v":12.0},{"d":"2009-12","v":20.2},
{"d":"2010-01","v":18.0},{"d":"2010-02","v":24.8},{"d":"2010-03","v":20.0},{"d":"2010-04","v":18.3},{"d":"2010-05","v":22.0},{"d":"2010-06","v":26.8},{"d":"2010-07","v":20.0},{"d":"2010-08","v":22.2},{"d":"2010-09","v":25.1},{"d":"2010-10","v":20.0},{"d":"2010-11","v":18.3},{"d":"2010-12","v":12.0},
{"d":"2011-01","v":10.9},{"d":"2011-02","v":11.7},{"d":"2011-03","v":12.0},{"d":"2011-04","v":13.7},{"d":"2011-05","v":20.0},{"d":"2011-06","v":23.1}
]},
"data": {"name": "soi"},
"mark": {"type": "bar", "strokeWidth": 0.55},
"encoding": {
  "x": {
    "field": "d", "type": "temporal", "timeUnit": "utcyearmonth",
    "scale": {"type": "utc", "domain": [{"year": 1907, "month": 1, "date": 1, "utc": true}, {"year": 2011, "month": 7, "date": 1, "utc": true}]},
    "axis": {
      "values": [{"year": 1907, "month": 1, "date": 1, "utc": true}, {"year": 1920, "month": 1, "date": 1, "utc": true}, {"year": 1933, "month": 1, "date": 1, "utc": true}, {"year": 1946, "month": 1, "date": 1, "utc": true}, {"year": 1959, "month": 1, "date": 1, "utc": true}, {"year": 1972, "month": 1, "date": 1, "utc": true}, {"year": 1985, "month": 1, "date": 1, "utc": true}, {"year": 1998, "month": 1, "date": 1, "utc": true}, {"year": 2011, "month": 1, "date": 1, "utc": true}],
      "labelExpr": "utcFormat(datum.value, '%Y')",
      "labelFont": "Lato", "labelFontSize": 26, "labelColor": "#262626",
      "labelFlush": false, "labelOverlap": false,
      "ticks": false, "domain": false, "grid": false,
      "labelPadding": 25, "labelBaseline": "top",
      "title": "Year", "titleFont": "Lato", "titleFontSize": 26, "titleFontWeight": "bold", "titleColor": "#000000",
      "titleBaseline": "alphabetic", "titleY": 77
    }
  },
  "y": {
    "field": "v", "type": "quantitative",
    "scale": {"domain": [-40, 40], "nice": false},
    "axis": {
      "values": [-40, -30, -20, -10, 0, 10, 20, 30, 40],
      "labelExpr": "'' + datum.value",
      "labelFont": "Lato", "labelFontSize": 26, "labelColor": "#262626",
      "tickSize": 8, "tickColor": "#999999", "tickWidth": 1.5, "labelPadding": 18,
      "domainColor": "#999999", "domainWidth": 2,
      "gridColor": "#A0A0A0", "gridWidth": 1.5,
      "title": "SO Index", "titleFont": "Lato", "titleFontSize": 26, "titleFontWeight": "bold", "titleColor": "#000000",
      "titleAngle": 270, "titleX": -79, "titleY": 259, "titleAlign": "center", "titleBaseline": "middle"
    }
  },
  "color": {"condition": {"test": "datum.v >= 0", "value": "#FF0000"}, "value": "#1F497D"},
  "stroke": {"condition": {"test": "datum.v >= 0", "value": "#FF0000"}, "value": "#1F497D"}
}
}
